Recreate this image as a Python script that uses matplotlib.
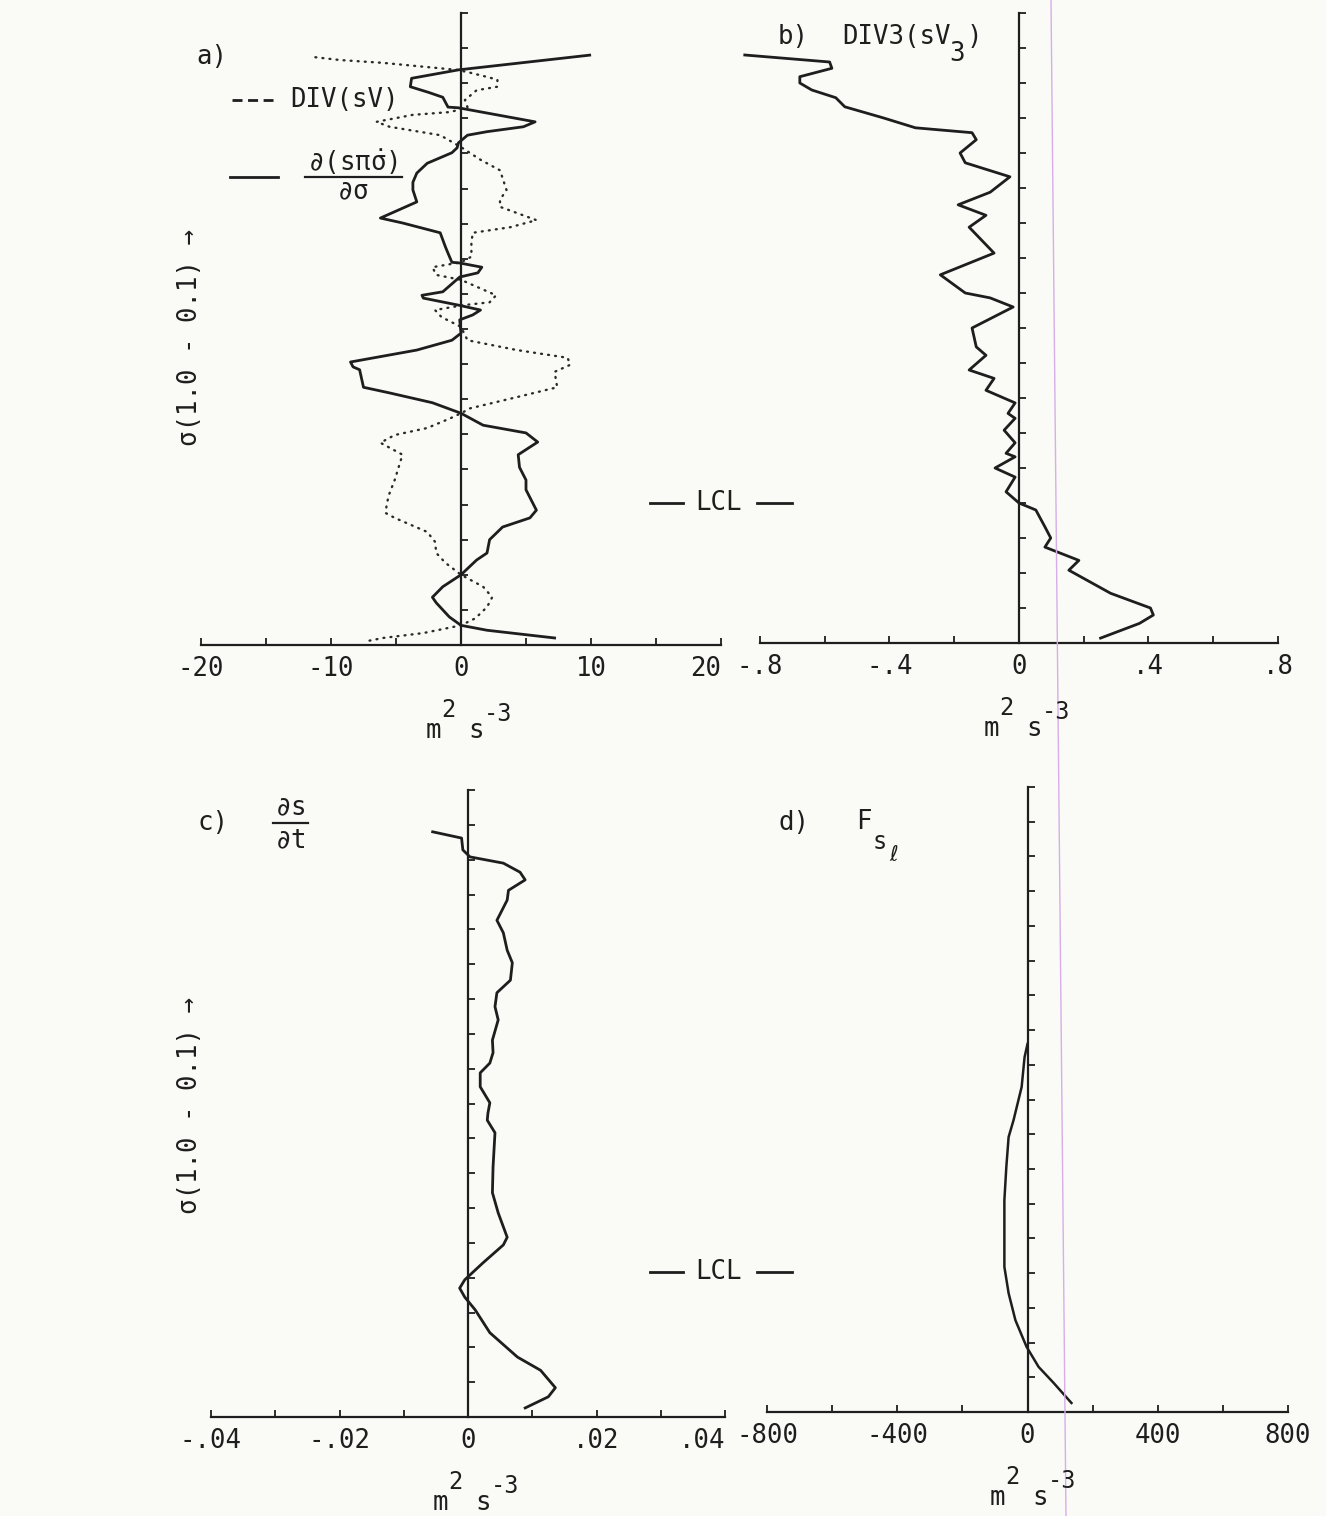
import numpy as np
import matplotlib
matplotlib.use("Agg")
import matplotlib.pyplot as plt
from matplotlib.lines import Line2D

plt.rcParams["font.family"] = ["DejaVu Sans Mono", "DejaVu Sans"]
plt.rcParams["mathtext.fontset"] = "custom"
plt.rcParams["mathtext.rm"] = "DejaVu Sans Mono"
plt.rcParams["mathtext.it"] = "DejaVu Sans Mono"

# ---- data (sigma levels, 1.0 at the bottom, 0.1 at the top) ----
# a) vertical flux divergence d(s pi sigma-dot)/d sigma  [m2 s-3]
a_flux_sigma = [0.160, 0.181, 0.193, 0.205, 0.213, 0.220, 0.234, 0.235, 0.255, 0.262,
                0.269, 0.274, 0.285, 0.292, 0.299, 0.314, 0.328, 0.341, 0.352, 0.369,
                0.392, 0.399, 0.413, 0.423, 0.433, 0.442, 0.455, 0.456, 0.462, 0.470,
                0.476, 0.497, 0.502, 0.506, 0.516, 0.523, 0.530, 0.537, 0.556, 0.566,
                0.580, 0.597, 0.604, 0.608, 0.633, 0.641, 0.655, 0.670, 0.687, 0.698,
                0.711, 0.729, 0.747, 0.765, 0.779, 0.808, 0.819, 0.832, 0.850, 0.869,
                0.879, 0.900, 0.917, 0.932, 0.940, 0.960, 0.972, 0.979, 0.990]
a_flux = [9.9, -0.2, -3.8, -3.9, -2.5, -1.4, -1.0, -0.2, 5.7, 4.8,
          2.0, 0.5, -0.2, -0.3, -0.7, -2.6, -3.4, -3.7, -3.7, -3.4,
          -6.2, -4.5, -1.6, -1.4, -1.2, -1.0, -0.7, -0.1, 1.6, 1.3,
          -0.1, -1.4, -3.0, -2.9, -0.2, 1.5, 0.9, -0.1, 0.0, -0.7,
          -3.4, -8.5, -8.3, -7.8, -7.5, -5.5, -2.2, 0.0, 1.7, 5.0,
          5.9, 4.4, 4.5, 5.0, 5.0, 5.8, 5.3, 3.2, 2.2, 2.0,
          1.2, 0.0, -1.4, -2.2, -1.9, -0.9, 0.0, 2.0, 7.2]

# a) horizontal divergence DIV(sV)
a_div_sigma = [0.163, 0.167, 0.171, 0.177, 0.181, 0.185, 0.191, 0.195, 0.205, 0.210,
               0.224, 0.234, 0.241, 0.245, 0.255, 0.262, 0.274, 0.291, 0.309, 0.324,
               0.352, 0.366, 0.376, 0.395, 0.405, 0.413, 0.428, 0.447, 0.455, 0.462,
               0.473, 0.480, 0.502, 0.512, 0.516, 0.523, 0.533, 0.547, 0.566, 0.580,
               0.591, 0.601, 0.611, 0.633, 0.647, 0.663, 0.670, 0.677, 0.691, 0.701,
               0.712, 0.729, 0.747, 0.765, 0.784, 0.798, 0.812, 0.819, 0.839, 0.853,
               0.869, 0.883, 0.900, 0.917, 0.932, 0.946, 0.962, 0.972, 0.983, 0.990,
               0.994]
a_div = [-11.2, -9.3, -6.0, -2.6, -0.3, 0.7, 2.0, 2.8, 2.8, 1.2,
         0.3, 0.5, -0.8, -3.7, -6.5, -5.5, -1.6, 0.0, 1.5, 3.0,
         3.5, 3.0, 3.0, 5.8, 3.8, 0.9, 0.8, 0.8, 0.0, -2.2,
         -1.9, 0.0, 2.7, 2.2, 0.2, -2.0, -1.5, 0.0, 0.5, 4.3,
         8.2, 8.4, 7.2, 7.4, 4.3, 0.7, 0.0, -0.8, -2.6, -5.1,
         -6.2, -4.5, -4.8, -5.1, -5.5, -5.7, -5.8, -5.1, -2.6, -2.0,
         -1.9, -1.2, 0.0, 1.7, 2.4, 2.0, 1.1, 0.0, -2.9, -6.0,
         -7.1]

# b) DIV3(sV3)
b_sigma = [0.160, 0.170, 0.179, 0.191, 0.200, 0.210, 0.221, 0.234, 0.250, 0.264,
           0.271, 0.281, 0.300, 0.314, 0.334, 0.356, 0.374, 0.389, 0.406, 0.443,
           0.474, 0.500, 0.507, 0.520, 0.550, 0.577, 0.589, 0.610, 0.622, 0.639,
           0.657, 0.672, 0.679, 0.696, 0.714, 0.729, 0.734, 0.750, 0.763, 0.784,
           0.800, 0.810, 0.834, 0.850, 0.863, 0.882, 0.896, 0.929, 0.950, 0.960,
           0.972, 0.993]
b_div3 = [-0.847, -0.585, -0.578, -0.677, -0.677, -0.640, -0.566, -0.538, -0.418, -0.320,
          -0.145, -0.132, -0.182, -0.166, -0.028, -0.089, -0.188, -0.102, -0.154, -0.077,
          -0.243, -0.166, -0.089, -0.018, -0.145, -0.132, -0.102, -0.154, -0.077, -0.102,
          -0.012, -0.034, -0.012, -0.046, -0.012, -0.040, -0.012, -0.074, -0.012, -0.040,
          0.000, 0.052, 0.080, 0.098, 0.080, 0.185, 0.154, 0.283, 0.406, 0.415,
          0.372, 0.252]

# c) ds/dt
c_sigma = [0.160, 0.169, 0.186, 0.196, 0.205, 0.218, 0.229, 0.244, 0.258, 0.287,
           0.305, 0.330, 0.348, 0.373, 0.391, 0.411, 0.430, 0.459, 0.477, 0.492,
           0.506, 0.526, 0.549, 0.564, 0.574, 0.592, 0.641, 0.678, 0.707, 0.742,
           0.753, 0.779, 0.803, 0.815, 0.828, 0.846, 0.879, 0.914, 0.933, 0.958,
           0.971, 0.987]
c_dsdt = [-0.0055, -0.0010, -0.0008, 0.0003, 0.0055, 0.0081, 0.0089, 0.0063, 0.0061, 0.0045,
          0.0055, 0.0061, 0.0069, 0.0066, 0.0045, 0.0042, 0.0047, 0.0038, 0.0039, 0.0034,
          0.0019, 0.0019, 0.0034, 0.0031, 0.0030, 0.0042, 0.0039, 0.0038, 0.0047, 0.0061,
          0.0055, 0.0023, -0.0005, -0.0013, -0.0005, 0.0011, 0.0034, 0.0077, 0.0113, 0.0136,
          0.0125, 0.0089]

# d) F_s_l
d_sigma = [0.470, 0.489, 0.532, 0.580, 0.604, 0.647, 0.695, 0.742, 0.791, 0.829,
           0.868, 0.906, 0.935, 0.958, 0.987]
d_fsl = [0, -9, -18, -43, -58, -65, -71, -71, -71, -58,
         -37, -3, 34, 80, 135]

sigma_ticks = np.arange(0.1, 1.0001, 0.05)

W, H = 1326, 1516
INK = "#1e1e1e"
fig = plt.figure(figsize=(W / 100, H / 100), dpi=100, facecolor="#fafaf6")


def fx(x):
    return x / W


def fy(y):
    return 1 - y / H


def ftext(x, y, s, size=18.5, **kw):
    kw.setdefault("ha", "center")
    kw.setdefault("va", "center")
    fig.text(fx(x), fy(y), s, fontsize=size, color=INK, **kw)


def fline(xs, ys, **kw):
    kw.setdefault("color", INK)
    kw.setdefault("lw", 2)
    fig.add_artist(Line2D([fx(v) for v in xs], [fy(v) for v in ys],
                          transform=fig.transFigure, **kw))


def make_panel(left, right, top, bottom, xlim, major, labels, minor, last_right=False):
    ax = fig.add_axes([fx(left), fy(bottom), (right - left) / W, (bottom - top) / H])
    ax.patch.set_alpha(0)
    ax.set_xlim(xlim)
    ax.set_ylim(1.0, 0.1)
    for s in ("top", "right"):
        ax.spines[s].set_visible(False)
    ax.spines["left"].set_position(("data", 0))
    for s in ("left", "bottom"):
        ax.spines[s].set_linewidth(1.6)
        ax.spines[s].set_color(INK)
    ax.set_xticks(major, labels)
    ax.set_xticks(minor, minor=True)
    ax.tick_params(axis="x", which="both", direction="in", length=5, width=1.3,
                   pad=8, labelsize=18.5, colors=INK)
    if last_right:
        ax.get_xticklabels()[-1].set_ha("right")
    ax.set_yticks(sigma_ticks)
    ax.set_yticklabels([])
    ax.tick_params(axis="y", direction="in", length=5, width=1.3, colors=INK)
    return ax


def unit_label(x0, yax):
    ftext(x0 - 35, yax + 93, "m", ha="left", va="baseline")
    ftext(x0 - 20, yax + 72, "2", size=17, ha="left", va="baseline")
    ftext(x0 + 7, yax + 93, "s", ha="left", va="baseline")
    ftext(x0 + 23, yax + 76, "-3", size=17, ha="left", va="baseline")


def lcl(y):
    ftext(718, y, "LCL")
    fline([650, 683], [y, y])
    fline([757, 792], [y, y])


# ---- a) ----
ax_a = make_panel(201, 721, 13, 645, (-20, 20), [-20, -10, 0, 10, 20],
                  ["-20", "-10", "0", "10", "20"], [-15, -5, 5, 15], last_right=True)
ax_a.plot(a_div, a_div_sigma, color="#2a2a2a", lw=1.7, linestyle=(0, (0.4, 2.6)),
          dash_capstyle="round", clip_on=False)
ax_a.plot(a_flux, a_flux_sigma, color=INK, lw=2.0, clip_on=False)

ftext(212, 57, "a)")
fline([232, 273], [100, 100], linestyle=(0, (3.6, 2.0)))
ftext(290, 100, "DIV(sV)", ha="left")
fline([230, 278], [177, 177])
ftext(353, 162, r"$\partial(\mathrm{s}\pi\dot{\sigma})$")
fline([305, 402], [177, 177], lw=1.6)
ftext(353, 192, r"$\partial\sigma$")
ftext(190, 338, "σ(1.0 - 0.1) →", rotation=90)
unit_label(461, 645)
lcl(503)

# ---- b) ----
ax_b = make_panel(760, 1278, 13, 643, (-0.8, 0.8), [-0.8, -0.4, 0, 0.4, 0.8],
                  ["-.8", "-.4", "0", ".4", ".8"], [-0.6, -0.2, 0.2, 0.6])
ax_b.plot(b_div3, b_sigma, color=INK, lw=2.0, clip_on=False)
ftext(793, 37, "b)")
ftext(842, 37, "DIV3(sV", ha="left")
ftext(957, 54, "3")
ftext(967, 37, ")", ha="left")
unit_label(1019, 643)

# ---- c) ----
ax_c = make_panel(211, 725, 790, 1417, (-0.04, 0.04), [-0.04, -0.02, 0, 0.02, 0.04],
                  ["-.04", "-.02", "0", ".02", ".04"], [-0.03, -0.01, 0.01, 0.03],
                  last_right=True)
ax_c.plot(c_dsdt, c_sigma, color=INK, lw=2.0, clip_on=False)
ftext(213, 823, "c)")
ftext(290, 808, r"$\partial$s")
fline([273, 308], [823, 823], lw=1.6)
ftext(290, 841, r"$\partial$t")
ftext(190, 1106, "σ(1.0 - 0.1) →", rotation=90)
unit_label(468, 1417)
lcl(1272)

# ---- d) ----
ax_d = make_panel(767, 1288, 787, 1412, (-800, 800), [-800, -400, 0, 400, 800],
                  ["-800", "-400", "0", "400", "800"], [-600, -200, 200, 600])
ax_d.plot(d_fsl, d_sigma, color=INK, lw=1.8, clip_on=False)
ftext(794, 823, "d)")
ftext(864, 822, "F")
ftext(880, 842, "s", size=17)
ftext(894, 855, "ℓ", size=15, family=["DejaVu Sans", "DejaVu Sans Mono"])
unit_label(1025, 1412)

# faint violet scanner line
fline([1051, 1066], [0, H], color="#d7aee8", lw=1.0)

fig.savefig("out.png", dpi=100, facecolor=fig.get_facecolor())
